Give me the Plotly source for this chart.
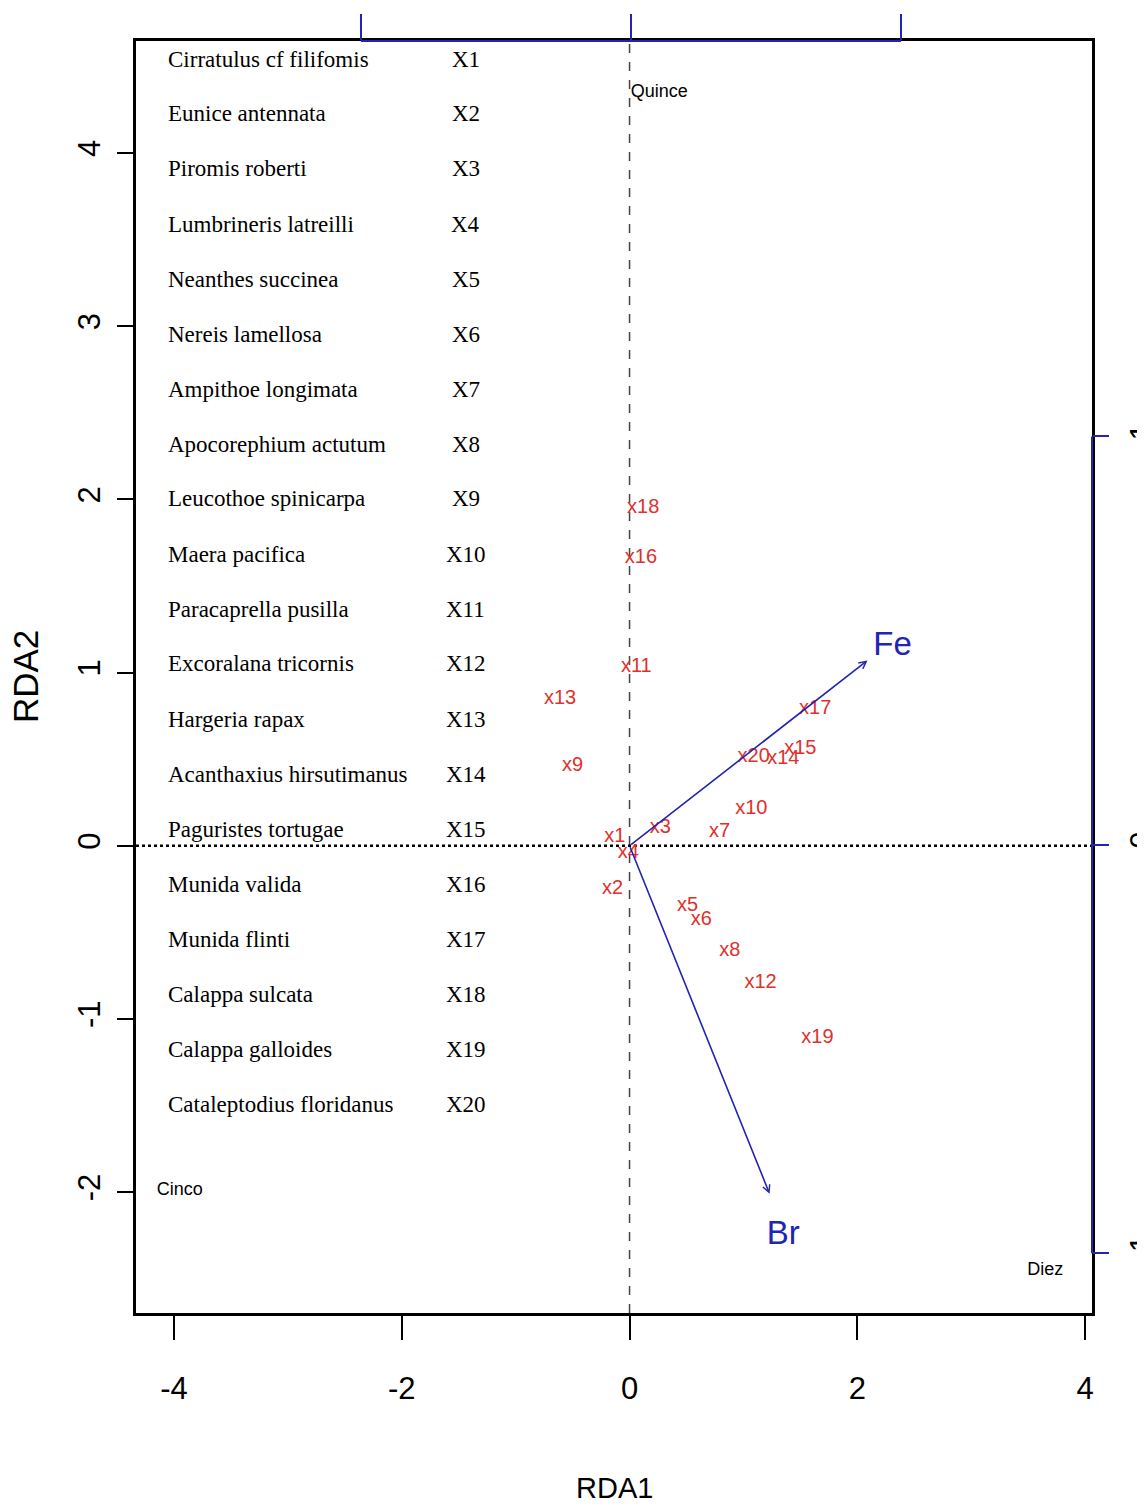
import plotly.graph_objects as go

# ---------------- data ----------------
species_names = [
    "Cirratulus cf filifomis", "Eunice antennata", "Piromis roberti",
    "Lumbrineris latreilli", "Neanthes succinea", "Nereis lamellosa",
    "Ampithoe longimata", "Apocorephium actutum", "Leucothoe spinicarpa",
    "Maera pacifica", "Paracaprella pusilla", "Excoralana tricornis",
    "Hargeria rapax", "Acanthaxius hirsutimanus", "Paguristes tortugae",
    "Munida valida", "Munida flinti", "Calappa sulcata",
    "Calappa galloides", "Cataleptodius floridanus",
]
species_codes = ["X%d" % i for i in range(1, 21)]
point_labels = ["x%d" % i for i in range(1, 21)]
species_rda1 = [-0.13, -0.15, 0.27, -0.01, 0.51, 0.63, 0.79, 0.88, -0.50, 1.07,
                0.06, 1.15, -0.61, 1.35, 1.50, 0.10, 1.63, 0.12, 1.65, 1.09]
species_rda2 = [0.05, -0.25, 0.10, -0.04, -0.35, -0.43, 0.08, -0.61, 0.46, 0.21,
                1.03, -0.79, 0.85, 0.50, 0.56, 1.66, 0.79, 1.95, -1.11, 0.51]

env_names = ["Fe", "Br"]
env_rda1 = [2.09, 1.23]
env_rda2 = [1.07, -2.01]
env_label_rda1 = [2.31, 1.35]
env_label_rda2 = [1.15, -2.25]

site_names = ["Quince", "Cinco", "Diez"]
site_rda1 = [0.26, -3.95, 3.65]
site_rda2 = [4.35, -1.99, -2.45]

x_ticks = [-4, -2, 0, 2, 4]
x_tick_labels = ["-4", "-2", "0", "2", "4"]
y_ticks = [-2, -1, 0, 1, 2, 3, 4]
y_tick_labels = ["-2", "-1", "0", "1", "2", "3", "4"]
top_ticks = [-1, 0, 1]
right_ticks = [-1, 0, 1]
right_tick_labels = ["-1", "0", "1"]

# ---------------- style ----------------
BLUE = "#2323b4"
RED = "#e0302c"
SANS = "Liberation Sans Narrow, Liberation Sans, Arial, sans-serif"
SERIF = "Liberation Serif, Times New Roman, serif"

fig = go.Figure()

# species scores (red labels)
fig.add_trace(go.Scatter(
    x=species_rda1, y=species_rda2, mode="text", text=point_labels,
    textposition="middle center",
    textfont=dict(family=SANS, size=20, color=RED),
    hoverinfo="skip", showlegend=False, cliponaxis=False,
))

# environmental arrow labels
fig.add_trace(go.Scatter(
    x=env_label_rda1, y=env_label_rda2, mode="text", text=env_names,
    textposition="middle center",
    textfont=dict(family=SANS, size=33, color=BLUE),
    hoverinfo="skip", showlegend=False,
))

# site labels
fig.add_trace(go.Scatter(
    x=site_rda1, y=site_rda2, mode="text", text=site_names,
    textposition="middle center",
    textfont=dict(family=SANS, size=18, color="black"),
    hoverinfo="skip", showlegend=False,
))

# invisible traces to activate the top and right biplot axes
fig.add_trace(go.Scatter(x=top_ticks, y=[0, 0, 0], xaxis="x2", yaxis="y",
                         mode="markers", marker=dict(opacity=0),
                         hoverinfo="skip", showlegend=False))
fig.add_trace(go.Scatter(x=[0, 0, 0], y=right_ticks, xaxis="x", yaxis="y2",
                         mode="markers", marker=dict(opacity=0),
                         hoverinfo="skip", showlegend=False))

# arrows
annotations = []
for ex, ey in zip(env_rda1, env_rda2):
    annotations.append(dict(
        x=ex, y=ey, ax=0, ay=0, xref="x", yref="y", axref="x", ayref="y",
        text="", showarrow=True, arrowhead=5, arrowsize=0.9,
        arrowwidth=1.6, arrowcolor=BLUE, standoff=0, startstandoff=0,
    ))

# species key list
top_px, step_px = 59.0, 55.0
plot_top, plot_h = 41.0, 1272.0
for i, (nm, cd) in enumerate(zip(species_names, species_codes)):
    py = top_px + i * step_px
    yp = 1 - (py - plot_top) / plot_h
    annotations.append(dict(x=0.031, y=yp, xref="paper", yref="paper",
                            text=nm, showarrow=False, xanchor="left",
                            yanchor="middle",
                            font=dict(family=SERIF, size=23, color="black")))
    annotations.append(dict(x=0.345, y=yp, xref="paper", yref="paper",
                            text=cd, showarrow=False, xanchor="center",
                            yanchor="middle",
                            font=dict(family=SERIF, size=23, color="black")))

# axis titles
annotations.append(dict(x=0.5, y=-0.1376, xref="paper", yref="paper",
                        text="RDA1", showarrow=False, xanchor="center",
                        yanchor="middle",
                        font=dict(family=SANS, size=29, color="black")))
annotations.append(dict(x=-0.116, y=0.5, xref="paper", yref="paper",
                        text="RDA2", showarrow=False, textangle=-90,
                        xanchor="center", yanchor="middle",
                        font=dict(family=SANS, size=35, color="black")))

shapes = [
    # vertical dashed line at RDA1 = 0
    dict(type="line", xref="x", yref="paper", x0=0, x1=0, y0=0, y1=1,
         line=dict(color="#444444", width=1.5, dash="dash"), layer="below"),
    # horizontal dotted line at RDA2 = 0
    dict(type="line", xref="paper", yref="y", x0=0, x1=1, y0=0, y1=0,
         line=dict(color="black", width=2.5, dash="dot"), layer="below"),
    # top biplot axis line
    dict(type="line", xref="x2", yref="paper", x0=top_ticks[0], x1=top_ticks[-1],
         y0=1, y1=1, line=dict(color=BLUE, width=2)),
    # right biplot axis line
    dict(type="line", xref="paper", yref="y2", x0=1.0, x1=1.0,
         y0=right_ticks[0], y1=right_ticks[-1], line=dict(color=BLUE, width=2)),
]

fig.update_layout(
    width=1137, height=1501,
    margin=dict(l=128, r=53, t=33, b=196, pad=0),
    paper_bgcolor="white", plot_bgcolor="white",
    showlegend=False,
    xaxis=dict(range=[-4.334, 4.061], tickvals=x_ticks, ticktext=x_tick_labels,
               ticks="outside", ticklen=24, tickwidth=1.5, tickcolor="black",
               showgrid=False, zeroline=False, showline=True, mirror=True,
               linecolor="black", linewidth=2.5, automargin=False,
               ticklabelstandoff=22,
               tickfont=dict(family=SANS, size=31, color="black")),
    yaxis=dict(range=[-2.698, 4.647], tickvals=y_ticks, ticktext=y_tick_labels,
               ticks="outside", ticklen=16, tickwidth=1.5, tickcolor="black",
               tickangle=-90,
               showgrid=False, zeroline=False, showline=True, mirror=True,
               linecolor="black", linewidth=2.5, automargin=False,
               ticklabelstandoff=5,
               tickfont=dict(family=SANS, size=31, color="black")),
    xaxis2=dict(overlaying="x", side="top", range=[-1.833, 1.707],
                tickvals=top_ticks, ticks="outside", ticklen=26, tickwidth=1.5,
                tickcolor=BLUE, showticklabels=False, showgrid=False,
                zeroline=False, showline=False, automargin=False),
    yaxis2=dict(overlaying="y", side="right", range=[-1.146, 1.968],
                tickvals=right_ticks, ticktext=right_tick_labels,
                ticks="outside", ticklen=16, tickwidth=2,
                tickcolor=BLUE, tickangle=-90, showgrid=False, zeroline=False,
                showline=False, automargin=False, ticklabelstandoff=6,
                tickfont=dict(family=SANS, size=31, color="black")),
    shapes=shapes,
    annotations=annotations,
)

fig.write_html("out.html")
